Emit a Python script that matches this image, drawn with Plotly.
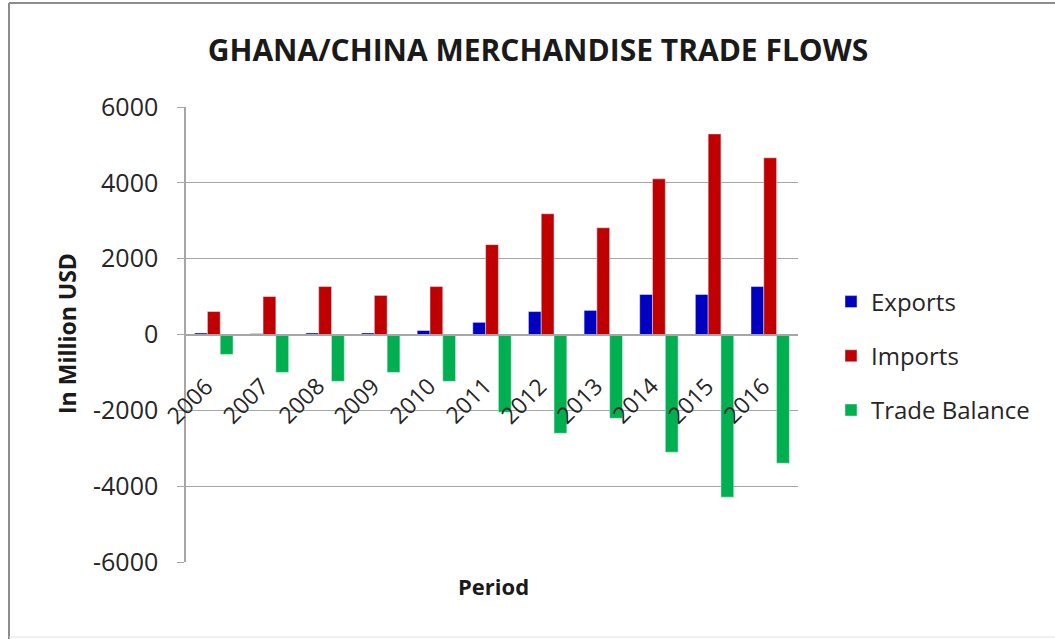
import plotly.graph_objects as go

years = ["2006", "2007", "2008", "2009", "2010", "2011", "2012", "2013", "2014", "2015", "2016"]
exports = [40, 20, 40, 40, 105, 320, 605, 635, 1055, 1055, 1265]
imports = [605, 1000, 1265, 1030, 1265, 2370, 3185, 2815, 4105, 5290, 4660]
trade_balance = [-525, -1000, -1235, -1000, -1235, -2050, -2605, -2210, -3105, -4290, -3395]
y_tick_values = [-6000, -4000, -2000, 0, 2000, 4000, 6000]
y_tick_labels = ["-6000", "-4000", "-2000", "0", "2000", "4000", "6000"]

FONT = "Open Sans"
L, R, T, B = 186, 257, 107, 77
W, H = 1055, 639
PW = W - L - R
PH = H - T - B

def px_x(x):
    return (x - L) / PW

def px_y(y):
    return (H - B - y) / PH

fig = go.Figure()
fig.add_bar(x=years, y=exports, name="Exports", marker_color="#0000C0", legendgroup="a")
fig.add_bar(x=years, y=imports, name="Imports", marker_color="#C00000", legendgroup="b")
fig.add_bar(x=years, y=trade_balance, name="Trade Balance", marker_color="#00B050", legendgroup="c")

fig.update_layout(
    width=W, height=H,
    margin=dict(l=L, r=R, t=T, b=B, autoexpand=False),
    paper_bgcolor="white", plot_bgcolor="white",
    barmode="group", bargap=0.31, bargroupgap=0,
    font=dict(family=FONT, color="#262626"),
    title=dict(text="<b>GHANA/CHINA MERCHANDISE TRADE FLOWS</b>", x=538 / W, xref="container",
               xanchor="center", y=1 - 50 / H, yanchor="middle", yref="container",
               font=dict(size=30, family=FONT, color="#1a1a1a")),
    legend=dict(x=px_x(831), xanchor="left", y=px_y(356), yanchor="middle",
                font=dict(size=24, family=FONT, color="#262626"), tracegroupgap=20,
                bgcolor="rgba(0,0,0,0)"),
    xaxis=dict(type="category", categoryorder="array", categoryarray=years,
               range=[-0.5, len(years) - 0.5], anchor="free", position=0.5,
               showline=True, linecolor="#a6a6a6",
               linewidth=1.5, showticklabels=False, showgrid=False, ticks="", zeroline=False),
    yaxis=dict(range=[-6000, 6000], tickvals=y_tick_values, ticktext=y_tick_labels,
               showgrid=True, gridcolor="#a6a6a6",
               gridwidth=1.2, showline=True, linecolor="#a6a6a6", linewidth=1.5,
               ticks="outside", ticklen=7, tickcolor="#a6a6a6", ticklabelstandoff=14,
               tickfont=dict(size=25, family=FONT, color="#262626"), zeroline=False),
)

for i, yr in enumerate(years):
    fig.add_annotation(text=yr, x=i, y=0, xref="x", yref="y", showarrow=False,
                       textangle=-45, xanchor="right", yanchor="top", xshift=9, yshift=-33,
                       font=dict(size=23, family=FONT, color="#262626"))

fig.add_annotation(text="<b>Period</b>", xref="paper", yref="paper", x=px_x(493), y=px_y(586),
                   xanchor="center", yanchor="middle",
                   showarrow=False, font=dict(size=22, family=FONT, color="#1a1a1a"))
fig.add_annotation(text="<b>In Million USD</b>", xref="paper", yref="paper", x=px_x(67), y=px_y(334),
                   xanchor="center", yanchor="middle",
                   showarrow=False, textangle=-90, font=dict(size=23, family=FONT, color="#1a1a1a"))

# outer frame
fig.add_shape(type="line", xref="paper", yref="paper", x0=px_x(9), x1=px_x(1055), y0=px_y(3), y1=px_y(3),
              line=dict(color="#8c8c8c", width=2))
fig.add_shape(type="line", xref="paper", yref="paper", x0=px_x(9), x1=px_x(9), y0=px_y(3), y1=px_y(639),
              line=dict(color="#8c8c8c", width=2))
fig.add_shape(type="line", xref="paper", yref="paper", x0=px_x(9), x1=px_x(1055), y0=px_y(637), y1=px_y(637),
              line=dict(color="#e0e0e0", width=1))

fig.write_html("out.html", config={"displayModeBar": False},
               post_script="document.body.style.margin='0';")
